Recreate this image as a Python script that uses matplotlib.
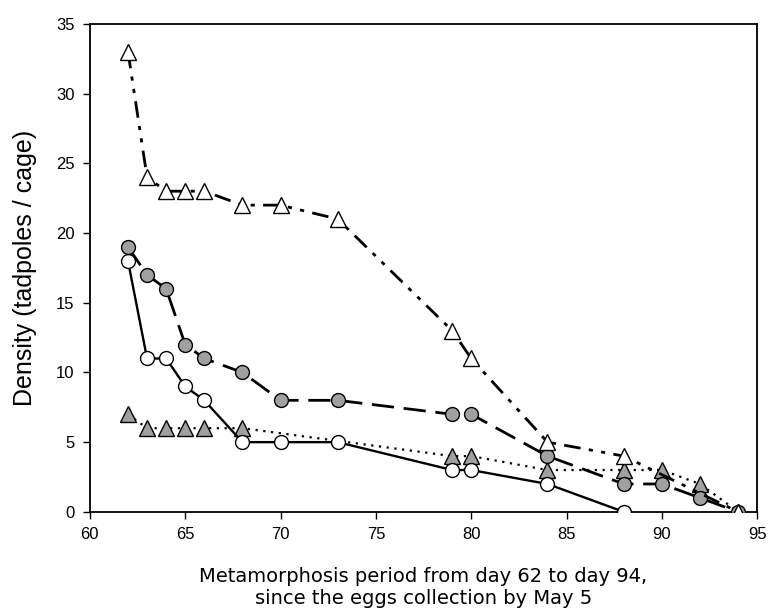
import matplotlib

matplotlib.use("Agg")
import matplotlib.pyplot as plt

plt.rcParams['font.family'] = ['Liberation Sans', 'DejaVu Sans']

# tadpole density per cage over the metamorphosis period
days_open_tri = [62, 63, 64, 65, 66, 68, 70, 73, 79, 80, 84, 88, 94]
dens_open_tri = [33, 24, 23, 23, 23, 22, 22, 21, 13, 11, 5, 4, 0]

days_gray_circ = [62, 63, 64, 65, 66, 68, 70, 73, 79, 80, 84, 88, 90, 92, 94]
dens_gray_circ = [19, 17, 16, 12, 11, 10, 8, 8, 7, 7, 4, 2, 2, 1, 0]

days_open_circ = [62, 63, 64, 65, 66, 68, 70, 73, 79, 80, 84, 88]
dens_open_circ = [18, 11, 11, 9, 8, 5, 5, 5, 3, 3, 2, 0]

days_gray_tri = [62, 63, 64, 65, 66, 68, 79, 80, 84, 88, 90, 92, 94]
dens_gray_tri = [7, 6, 6, 6, 6, 6, 4, 4, 3, 3, 3, 2, 0]

x_ticks = [60, 65, 70, 75, 80, 85, 90, 95]
y_ticks = [0, 5, 10, 15, 20, 25, 30, 35]

gray = '#a0a0a0'

fig = plt.figure(figsize=(7.68, 6.13), dpi=100)
ax = fig.add_axes([0.117, 0.165, 0.869, 0.796])

ax.plot(days_gray_tri, dens_gray_tri, color='black', lw=1.6, ls=(0, (1, 2.5)),
        marker='^', ms=11, mfc=gray, mec='black', mew=1, zorder=3)
ax.plot(days_open_circ, dens_open_circ, color='black', lw=1.7, ls='-',
        marker='o', ms=10, mfc='white', mec='black', mew=1, zorder=4)
ax.plot(days_gray_circ, dens_gray_circ, color='black', lw=2, ls=(0, (8, 3.5)),
        marker='o', ms=10, mfc=gray, mec='black', mew=1, zorder=5)
ax.plot(days_open_tri, dens_open_tri, color='black', lw=2, ls=(0, (6, 3, 1.5, 3, 1.5, 3)),
        marker='^', ms=11.5, mfc='white', mec='black', mew=1, zorder=6)

ax.set_xlim(60, 95)
ax.set_ylim(0, 35)
ax.set_xticks(x_ticks)
ax.set_yticks(y_ticks)
ax.tick_params(direction='out', length=5, width=1, labelsize=12, pad=6)
for s in ax.spines.values():
    s.set_linewidth(1.3)

# the axis caption is set wider than the tick labels
ax.set_xlabel('Metamorphosis period from day 62 to day 94,\nsince the eggs collection by May 5',
              fontsize=14, family=['DejaVu Sans'], labelpad=18, linespacing=1.2)
ax.set_ylabel('Density (tadpoles / cage)', fontsize=18, labelpad=14)

fig.savefig('out.png', dpi=100)
